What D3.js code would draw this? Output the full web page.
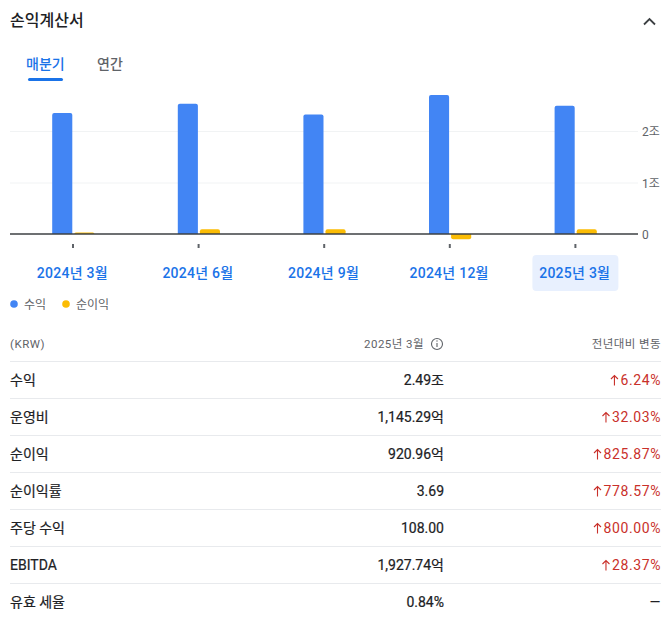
<html>
<head>
<meta charset="utf-8">
<script src="https://d3js.org/d3.v7.min.js"></script>
<style>
  html, body { margin: 0; background: #fff; overflow: hidden; }
  text { font-family: Roboto, "Noto Sans CJK KR", sans-serif; }
</style>
</head>
<body>
<div id="chart"></div>
<script>
var categories = ["2024년 3월", "2024년 6월", "2024년 9월", "2024년 12월", "2025년 3월"];
var revenue = [2.35, 2.53, 2.32, 2.70, 2.49];
var netIncome = [0.03, 0.09, 0.09, -0.10, 0.092];
var yTicks = [0, 1, 2];
var yTickLabels = ["0", "1조", "2조"];
var seriesNames = ["수익", "순이익"];
var seriesColors = ["#4285f4", "#fbbc04"];

var rowLabels = ["수익", "운영비", "순이익", "순이익률", "주당 수익", "EBITDA", "유효 세율"];
var rowValues = ["2.49조", "1,145.29억", "920.96억", "3.69", "108.00", "1,927.74억", "0.84%"];
var rowChanges = ["6.24%", "32.03%", "825.87%", "778.57%", "800.00%", "28.37%", "—"];

var width = 671, height = 622;
var svg = d3.select("#chart").append("svg")
  .attr("width", width).attr("height", height).style("display", "block");

// Header
svg.append("text").attr("x", 10).attr("y", 26)
  .attr("font-size", 16).attr("font-weight", 500).attr("fill", "#202124").text("손익계산서");
svg.append("path").attr("d", "M644 24.5l5.5-5.5l5.5 5.5")
  .attr("fill", "none").attr("stroke", "#3c4043").attr("stroke-width", 1.8);

// Tabs
svg.append("text").attr("x", 26).attr("y", 69)
  .attr("font-size", 14).attr("font-weight", 500).attr("fill", "#1a73e8").text("매분기");
svg.append("text").attr("x", 97).attr("y", 69)
  .attr("font-size", 14).attr("font-weight", 500).attr("fill", "#5f6368").text("연간");
svg.append("rect").attr("x", 28).attr("y", 78).attr("width", 35).attr("height", 3).attr("rx", 1.5)
  .attr("fill", "#1a73e8");

// Scales
var x = d3.scaleBand().domain(categories).range([10.2, 638.2]);
var xSeries = d3.scaleBand().domain(seriesNames).range([-20.8, 21.4]).paddingInner(0.0909);
var y = d3.scaleLinear().domain([0, 2]).range([234, 131]);

// Grid
svg.append("g").selectAll("line").data(yTicks.filter(function(d) { return d > 0; })).enter().append("line")
  .attr("x1", 10).attr("x2", 638)
  .attr("y1", function(d) { return y(d) + 0.5; }).attr("y2", function(d) { return y(d) + 0.5; })
  .attr("stroke", "#f1f3f4");

// Bars, rounded on the end away from zero
function barPath(cx, w, v) {
  var y0 = y(0), y1 = y(v), r = Math.min(2, Math.abs(y1 - y0)), s = v >= 0 ? 1 : -1;
  var sweep = v >= 0 ? 1 : 0;
  return "M" + cx + "," + y0 + "V" + (y1 + s * r)
    + "A" + r + "," + r + " 0 0 " + sweep + " " + (cx + r) + "," + y1
    + "H" + (cx + w - r)
    + "A" + r + "," + r + " 0 0 " + sweep + " " + (cx + w) + "," + (y1 + s * r)
    + "V" + y0 + "Z";
}
[revenue, netIncome].forEach(function(values, s) {
  svg.append("g").selectAll("path").data(values).enter().append("path")
    .attr("fill", seriesColors[s])
    .attr("d", function(d, i) {
      var left = x(categories[i]) + x.bandwidth() / 2 + xSeries(seriesNames[s]);
      return barPath(left, xSeries.bandwidth(), d);
    });
});

// Zero line
svg.append("line").attr("x1", 10).attr("x2", 638).attr("y1", y(0)).attr("y2", y(0))
  .attr("stroke", "#3c4043").attr("stroke-width", 1.3);

// Y axis labels
var yAxis = svg.append("g").attr("transform", "translate(642,0.7)")
  .call(d3.axisRight(y).tickValues(yTicks).tickSize(0).tickPadding(0)
    .tickFormat(function(d, i) { return yTickLabels[i]; }));
yAxis.select(".domain").remove();
yAxis.selectAll("text").attr("font-size", 12).attr("fill", "#5f6368")
  .style("font-family", 'Roboto, "Noto Sans CJK KR", sans-serif');

// Selected quarter highlight
var selected = categories[categories.length - 1];
svg.append("rect")
  .attr("x", x(selected) + x.bandwidth() / 2 - 43).attr("y", 255)
  .attr("width", 86).attr("height", 36).attr("rx", 4).attr("fill", "#e8f0fe");

// X axis: short ticks, then quarter labels
var xAxis = svg.append("g").attr("transform", "translate(0,244)")
  .call(d3.axisBottom(x).tickSize(4).tickPadding(20));
xAxis.select(".domain").remove();
xAxis.selectAll("line").attr("stroke", "#5f6368").attr("stroke-width", 2).attr("y1", 0);
xAxis.selectAll("text").attr("font-size", 14).attr("font-weight", 500).attr("fill", "#1a73e8")
  .attr("letter-spacing", 0.25).attr("dx", -0.7)
  .style("font-family", 'Roboto, "Noto Sans CJK KR", sans-serif');

// Legend
var legendX = [14, 66];
seriesNames.forEach(function(name, i) {
  svg.append("circle").attr("cx", legendX[i]).attr("cy", 304).attr("r", 3.8).attr("fill", seriesColors[i]);
  svg.append("text").attr("x", legendX[i] + 10).attr("y", 308.5)
    .attr("font-size", 12).attr("fill", "#5f6368").text(name);
});

// Table header
svg.append("text").attr("x", 10).attr("y", 348).attr("font-size", 11.5)
  .attr("letter-spacing", 0.5).attr("fill", "#5f6368").text("(KRW)");
svg.append("text").attr("x", 424).attr("y", 348).attr("font-size", 11.5).attr("text-anchor", "end")
  .attr("letter-spacing", 0.45).attr("fill", "#5f6368").text(selected);
svg.append("circle").attr("cx", 437).attr("cy", 344).attr("r", 5.5)
  .attr("fill", "none").attr("stroke", "#5f6368").attr("stroke-width", 1.1);
svg.append("line").attr("x1", 437).attr("x2", 437).attr("y1", 343).attr("y2", 347)
  .attr("stroke", "#5f6368").attr("stroke-width", 1.1);
svg.append("circle").attr("cx", 437).attr("cy", 341).attr("r", 0.7).attr("fill", "#5f6368");
svg.append("text").attr("x", 661).attr("y", 348).attr("font-size", 11.5).attr("text-anchor", "end")
  .attr("letter-spacing", 0.4).attr("fill", "#5f6368").text("전년대비 변동");

// Table rows
var rowY = d3.scaleBand().domain(rowLabels).range([362, 621]);
var rows = svg.append("g").selectAll("g").data(rowLabels).enter().append("g")
  .attr("transform", function(d) { return "translate(0," + rowY(d) + ")"; });
rows.append("line").attr("x1", 10).attr("x2", 661).attr("y1", -0.5).attr("y2", -0.5)
  .attr("stroke", "#e8eaed");
rows.append("text").attr("x", 10).attr("y", 23).attr("font-size", 14)
  .attr("fill", "#202124").attr("stroke", "#202124").attr("stroke-width", 0.2)
  .text(function(d) { return d; });
rows.append("text").attr("x", 444).attr("y", 23).attr("font-size", 14).attr("text-anchor", "end")
  .attr("fill", "#202124").attr("stroke", "#202124").attr("stroke-width", 0.2)
  .text(function(d, i) { return rowValues[i]; });
rows.append("text").attr("x", 661).attr("y", 23).attr("font-size", 14).attr("text-anchor", "end")
  .attr("letter-spacing", 0.6)
  .attr("fill", function(d, i) { return rowChanges[i] === "—" ? "#202124" : "#c9302a"; })
  .each(function(d, i) {
    var change = rowChanges[i];
    d3.select(this).text(change);
    if (change === "—") return;
    // arrow sits just left of the percentage
    var left = 661 - this.getComputedTextLength();
    d3.select(this.parentNode).append("path")
      .attr("d", "M" + (left - 6) + ",23.5V13.5M" + (left - 9.5) + ",17l3.5,-3.5l3.5,3.5")
      .attr("fill", "none").attr("stroke", "#c9302a").attr("stroke-width", 1.1);
  });
</script>
</body>
</html>
